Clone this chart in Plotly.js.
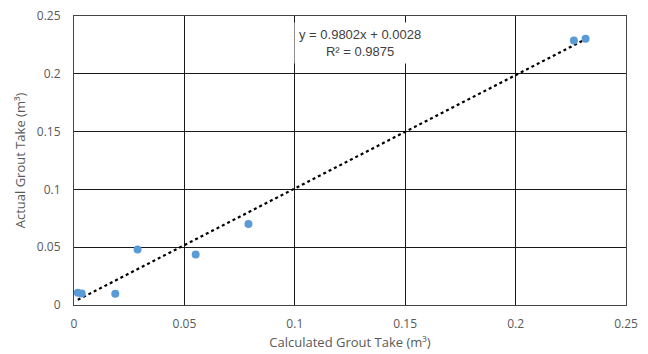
<!DOCTYPE html>
<html><head><meta charset="utf-8">
<script src="https://cdn.plot.ly/plotly-3.0.1.min.js"></script>
<style>html,body{margin:0;padding:0;background:#fff}#chart{width:648px;height:354px}</style>
</head><body><div id="chart"></div>
<script>
const calculated = [0.0017, 0.0035, 0.0187, 0.0288, 0.0551, 0.0790, 0.2264, 0.2317];
const actual     = [0.0105, 0.0100, 0.0097, 0.0480, 0.0437, 0.0700, 0.2288, 0.2304];
const slope = 0.9802, intercept = 0.0028, r2 = 0.9875;
const xTicks = [0, 0.05, 0.1, 0.15, 0.2, 0.25];
const xTickText = ['0', '0.05', '0.1', '0.15', '0.2', '0.25'];
const yTicks = [0, 0.05, 0.1, 0.15, 0.2, 0.25];
const yTickText = ['0', '0.05', '0.1', '0.15', '0.2', '0.25'];

const xmin = Math.min(...calculated), xmax = Math.max(...calculated);
const trendX = [xmin, xmax];
const trendY = trendX.map(v => slope * v + intercept);

const font = '"Open Sans", "Liberation Sans", sans-serif';
const data = [
  {x: trendX, y: trendY, mode: 'lines', type: 'scatter',
   line: {color: '#000', width: 2.2, dash: 'dot'}, hoverinfo: 'skip'},
  {x: calculated, y: actual, mode: 'markers', type: 'scatter',
   marker: {color: '#5B9BD5', size: 8}}
];
const axisCommon = {
  showgrid: true, gridcolor: '#1a1a1a', gridwidth: 1,
  showline: true, linecolor: '#444', linewidth: 1, mirror: true,
  zeroline: false, ticks: '', tickfont: {family: font, size: 12, color: '#595959'},
  fixedrange: true
};
const layout = {
  width: 648, height: 354,
  margin: {l: 74, r: 22, t: 16, b: 49},
  paper_bgcolor: '#fff', plot_bgcolor: '#fff',
  showlegend: false,
  xaxis: Object.assign({}, axisCommon, {
    range: [0, 0.25], tickvals: xTicks, ticktext: xTickText, ticklabelstandoff: 8,
    title: {text: 'Calculated Grout Take (m³)', font: {family: font, size: 13, color: '#595959'}, standoff: 6}
  }),
  yaxis: Object.assign({}, axisCommon, {
    range: [0, 0.25], tickvals: yTicks, ticktext: yTickText, ticklabelstandoff: 10,
    title: {text: 'Actual Grout Take (m³)', font: {family: font, size: 13, color: '#595959'}, standoff: 8}
  }),
  annotations: [{
    xref: 'x', yref: 'y', x: 0.1295, y: 0.2265,
    text: 'y = ' + slope + 'x + ' + intercept.toFixed(4) + '<br>R² = ' + r2,
    showarrow: false, align: 'center',
    font: {family: '"Liberation Sans", Arial, sans-serif', size: 13, color: '#404040'},
    bgcolor: '#fff', borderpad: 4
  }]
};
Plotly.newPlot('chart', data, layout, {displayModeBar: false, staticPlot: true});
</script>
</body></html>
